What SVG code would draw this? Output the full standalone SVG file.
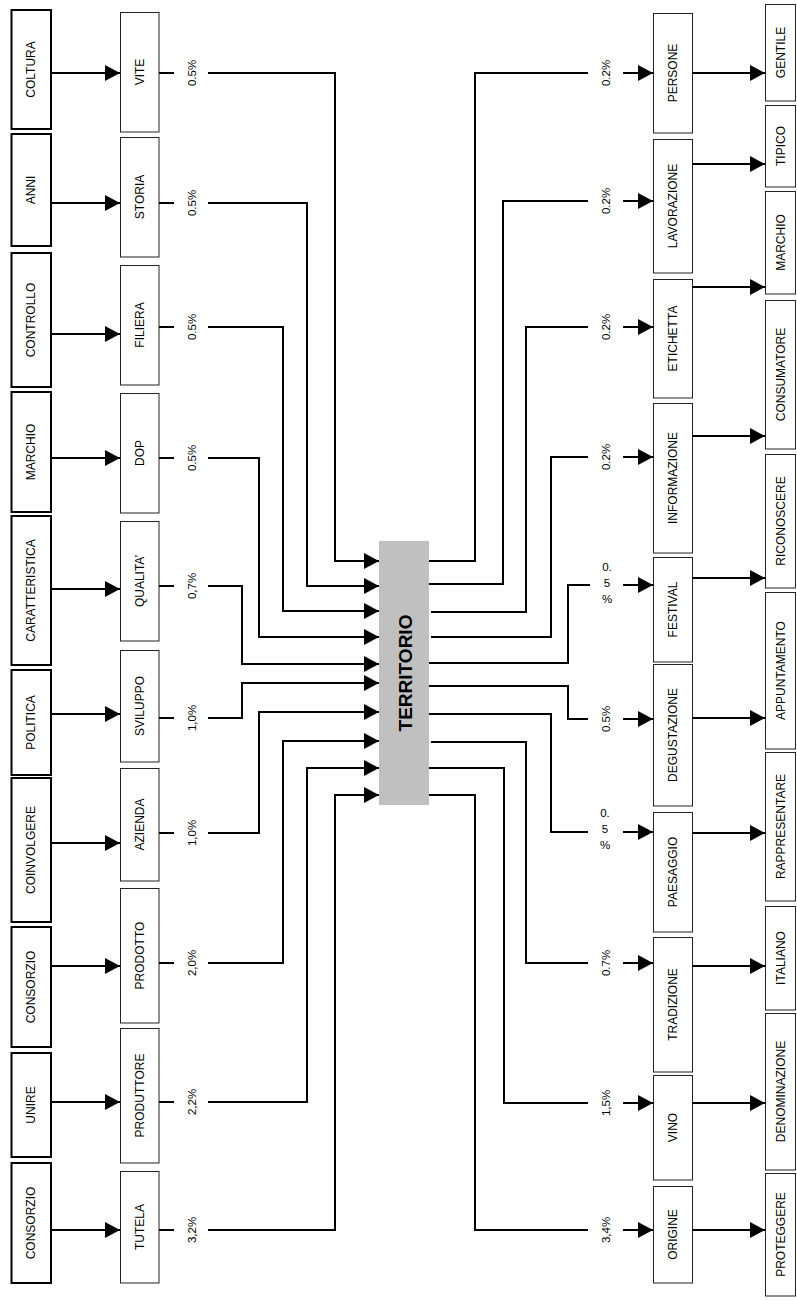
<svg xmlns="http://www.w3.org/2000/svg" width="797" height="1300" viewBox="0 0 797 1300">
<style>
.ob{fill:#fff;stroke:#000;stroke-width:2}
.ib{fill:#fff;stroke:#222;stroke-width:1}
.rb{fill:#fff;stroke:#222;stroke-width:1}
.t{font-family:"Liberation Sans",Arial,sans-serif;font-size:12px;fill:#000;text-anchor:middle;dominant-baseline:central}
.p{font-family:"Liberation Sans",Arial,sans-serif;font-size:11.5px;fill:#000;text-anchor:middle;dominant-baseline:central}
.c{fill:none;stroke:#000;stroke-width:2}
.a{fill:none;stroke:#000;stroke-width:2;marker-end:url(#ah)}
</style>
<defs>
<marker id="ah" markerUnits="userSpaceOnUse" markerWidth="16" markerHeight="16" refX="15" refY="8" orient="auto" viewBox="0 0 16 16">
<path d="M0,0 L15,8 L0,16 z" fill="#000"/>
</marker>
</defs>
<rect width="797" height="1300" fill="#fff"/>

<!-- Left outer nodes -->
<g id="lo1"><rect class="ob" x="11.5" y="10" width="39.5" height="119"/><text class="t" transform="translate(31,69.5) rotate(-90)">COLTURA</text></g>
<g id="lo2"><rect class="ob" x="11.5" y="134" width="39.5" height="112"/><text class="t" transform="translate(31,190) rotate(-90)">ANNI</text></g>
<g id="lo3"><rect class="ob" x="11.5" y="253" width="39.5" height="134"/><text class="t" transform="translate(31,320) rotate(-90)">CONTROLLO</text></g>
<g id="lo4"><rect class="ob" x="11.5" y="392" width="39.5" height="120"/><text class="t" transform="translate(31,452) rotate(-90)">MARCHIO</text></g>
<g id="lo5"><rect class="ob" x="11.5" y="516" width="39.5" height="149"/><text class="t" transform="translate(31,590.5) rotate(-90)">CARATTERISTICA</text></g>
<g id="lo6"><rect class="ob" x="11.5" y="670" width="39.5" height="105"/><text class="t" transform="translate(31,722.5) rotate(-90)">POLITICA</text></g>
<g id="lo7"><rect class="ob" x="11.5" y="778" width="39.5" height="144"/><text class="t" transform="translate(31,850) rotate(-90)">COINVOLGERE</text></g>
<g id="lo8"><rect class="ob" x="11.5" y="927" width="39.5" height="120"/><text class="t" transform="translate(31,987) rotate(-90)">CONSORZIO</text></g>
<g id="lo9"><rect class="ob" x="11.5" y="1053" width="39.5" height="104"/><text class="t" transform="translate(31,1105) rotate(-90)">UNIRE</text></g>
<g id="lo10"><rect class="ob" x="11.5" y="1163" width="39.5" height="120"/><text class="t" transform="translate(31,1223) rotate(-90)">CONSORZIO</text></g>

<!-- Left inner nodes -->
<g id="li1"><rect class="ib" x="120.5" y="12.5" width="38.5" height="119.5"/><text class="t" transform="translate(139.5,72) rotate(-90)">VITE</text></g>
<g id="li2"><rect class="ib" x="120.5" y="137.5" width="38.5" height="119.5"/><text class="t" transform="translate(139.5,197) rotate(-90)">STORIA</text></g>
<g id="li3"><rect class="ib" x="120.5" y="265.5" width="38.5" height="119.5"/><text class="t" transform="translate(139.5,325) rotate(-90)">FILIERA</text></g>
<g id="li4"><rect class="ib" x="120.5" y="393.5" width="38.5" height="119.5"/><text class="t" transform="translate(139.5,453) rotate(-90)">DOP</text></g>
<g id="li5"><rect class="ib" x="120.5" y="521.5" width="38.5" height="119.5"/><text class="t" transform="translate(139.5,581) rotate(-90)">QUALITA’</text></g>
<g id="li6"><rect class="ib" x="120.5" y="650.5" width="38.5" height="111.5"/><text class="t" transform="translate(139.5,706) rotate(-90)">SVILUPPO</text></g>
<g id="li7"><rect class="ib" x="120.5" y="768.5" width="38.5" height="112.5"/><text class="t" transform="translate(139.5,824.5) rotate(-90)">AZIENDA</text></g>
<g id="li8"><rect class="ib" x="120.5" y="888.5" width="38.5" height="134.5"/><text class="t" transform="translate(139.5,955.5) rotate(-90)">PRODOTTO</text></g>
<g id="li9"><rect class="ib" x="120.5" y="1028.5" width="38.5" height="134.5"/><text class="t" transform="translate(139.5,1095.5) rotate(-90)">PRODUTTORE</text></g>
<g id="li10"><rect class="ib" x="120.5" y="1171.5" width="38.5" height="111.5"/><text class="t" transform="translate(139.5,1227) rotate(-90)">TUTELA</text></g>

<!-- Center -->
<g id="territorio"><rect x="379" y="541" width="50" height="264" fill="#c0c0c0"/><text class="t" style="font-size:19px;font-weight:bold" transform="translate(405,673) rotate(-90)">TERRITORIO</text></g>

<!-- Right inner nodes -->
<g id="ri1"><rect class="ib" x="653.5" y="13.5" width="39" height="119.5"/><text class="t" transform="translate(673,73) rotate(-90)">PERSONE</text></g>
<g id="ri2"><rect class="ib" x="653.5" y="139.5" width="39" height="133.5"/><text class="t" transform="translate(673,206) rotate(-90)">LAVORAZIONE</text></g>
<g id="ri3"><rect class="ib" x="653.5" y="279.5" width="39" height="118.5"/><text class="t" transform="translate(673,338.5) rotate(-90)">ETICHETTA</text></g>
<g id="ri4"><rect class="ib" x="653.5" y="403.5" width="39" height="149.5"/><text class="t" transform="translate(673,478) rotate(-90)">INFORMAZIONE</text></g>
<g id="ri5"><rect class="ib" x="653.5" y="557.5" width="39" height="104.5"/><text class="t" transform="translate(673,609.5) rotate(-90)">FESTIVAL</text></g>
<g id="ri6"><rect class="ib" x="653.5" y="664.5" width="39" height="141.5"/><text class="t" transform="translate(673,735) rotate(-90)">DEGUSTAZIONE</text></g>
<g id="ri7"><rect class="ib" x="653.5" y="812.5" width="39" height="119.5"/><text class="t" transform="translate(673,872) rotate(-90)">PAESAGGIO</text></g>
<g id="ri8"><rect class="ib" x="653.5" y="937.5" width="39" height="134.5"/><text class="t" transform="translate(673,1004.5) rotate(-90)">TRADIZIONE</text></g>
<g id="ri9"><rect class="ib" x="653.5" y="1075.5" width="39" height="104.5"/><text class="t" transform="translate(673,1127.5) rotate(-90)">VINO</text></g>
<g id="ri10"><rect class="ib" x="653.5" y="1186.5" width="39" height="96.5"/><text class="t" transform="translate(673,1234.5) rotate(-90)">ORIGINE</text></g>

<!-- Right outer nodes -->
<g id="ro1"><rect class="rb" x="765.5" y="4.5" width="30" height="96.5"/><text class="t" transform="translate(781,52.5) rotate(-90)">GENTILE</text></g>
<g id="ro2"><rect class="rb" x="765.5" y="105.5" width="30" height="81.5"/><text class="t" transform="translate(781,146) rotate(-90)">TIPICO</text></g>
<g id="ro3"><rect class="rb" x="765.5" y="191.5" width="30" height="102.5"/><text class="t" transform="translate(781,242.5) rotate(-90)">MARCHIO</text></g>
<g id="ro4"><rect class="rb" x="765.5" y="300.5" width="30" height="148.5"/><text class="t" transform="translate(781,374.5) rotate(-90)">CONSUMATORE</text></g>
<g id="ro5"><rect class="rb" x="765.5" y="454.5" width="30" height="133.5"/><text class="t" transform="translate(781,521) rotate(-90)">RICONOSCERE</text></g>
<g id="ro6"><rect class="rb" x="765.5" y="592.5" width="30" height="156.5"/><text class="t" transform="translate(781,670.5) rotate(-90)">APPUNTAMENTO</text></g>
<g id="ro7"><rect class="rb" x="765.5" y="752.5" width="30" height="148.5"/><text class="t" transform="translate(781,826.5) rotate(-90)">RAPPRESENTARE</text></g>
<g id="ro8"><rect class="rb" x="765.5" y="906.5" width="30" height="103.5"/><text class="t" transform="translate(781,958) rotate(-90)">ITALIANO</text></g>
<g id="ro9"><rect class="rb" x="765.5" y="1013.5" width="30" height="156.5"/><text class="t" transform="translate(781,1091.5) rotate(-90)">DENOMINAZIONE</text></g>
<g id="ro10"><rect class="rb" x="765.5" y="1173.5" width="30" height="122.5"/><text class="t" transform="translate(781,1234.5) rotate(-90)">PROTEGGERE</text></g>

<!-- Connectors -->
<g id="connectors">
<!-- left outer -> inner -->
<path class="a" d="M51,73H120"/>
<path class="a" d="M51,203H120"/>
<path class="a" d="M51,334H120"/>
<path class="a" d="M51,458H120"/>
<path class="a" d="M51,589H120"/>
<path class="a" d="M51,714H120"/>
<path class="a" d="M51,843H120"/>
<path class="a" d="M51,966H120"/>
<path class="a" d="M51,1102H120"/>
<path class="a" d="M51,1230H120"/>
<!-- left inner -> territorio -->
<path class="c" d="M159,73H174"/><path class="a" d="M208,73H335V561H379"/>
<path class="c" d="M159,203H174"/><path class="a" d="M208,203H307V586H379"/>
<path class="c" d="M159,327H174"/><path class="a" d="M208,327H283V611H379"/>
<path class="c" d="M159,458H174"/><path class="a" d="M208,458H259V637H379"/>
<path class="c" d="M159,586H174"/><path class="a" d="M208,586H242V664H379"/>
<path class="c" d="M159,718H174"/><path class="a" d="M208,718H242V683H379"/>
<path class="c" d="M159,833H174"/><path class="a" d="M208,833H259V712H379"/>
<path class="c" d="M159,963H174"/><path class="a" d="M208,963H283V741H379"/>
<path class="c" d="M159,1102H174"/><path class="a" d="M208,1102H307V768H379"/>
<path class="c" d="M159,1230H174"/><path class="a" d="M208,1230H335V795H379"/>
<!-- territorio -> right inner -->
<path class="c" d="M429,561H475V73H588"/><path class="a" d="M623,73H653"/>
<path class="c" d="M429,584H503V201H588"/><path class="a" d="M623,201H653"/>
<path class="c" d="M431,612H526V327H588"/><path class="a" d="M623,327H653"/>
<path class="c" d="M431,637H551V457H588"/><path class="a" d="M623,457H653"/>
<path class="c" d="M429,663H568V585H590"/><path class="a" d="M623,585H653"/>
<path class="c" d="M429,686H568V719H588"/><path class="a" d="M623,719H653"/>
<path class="c" d="M429,714H551V832H588"/><path class="a" d="M623,832H653"/>
<path class="c" d="M431,742H526V963H588"/><path class="a" d="M623,963H653"/>
<path class="c" d="M429,768H504V1103H588"/><path class="a" d="M623,1103H653"/>
<path class="c" d="M429,795H475V1230H588"/><path class="a" d="M623,1230H653"/>
<!-- right inner -> right outer -->
<path class="a" d="M692,73H765"/>
<path class="a" d="M692,164H765"/>
<path class="a" d="M692,287H765"/>
<path class="a" d="M692,436H765"/>
<path class="a" d="M692,578H765"/>
<path class="a" d="M692,718H765"/>
<path class="a" d="M692,833H765"/>
<path class="a" d="M692,966H765"/>
<path class="a" d="M692,1103H765"/>
<path class="a" d="M692,1230H765"/>
<!-- labels left -->
<text class="p" transform="translate(192,73) rotate(-90)">0.5%</text>
<text class="p" transform="translate(192,203) rotate(-90)">0.5%</text>
<text class="p" transform="translate(192,327) rotate(-90)">0.5%</text>
<text class="p" transform="translate(192,458) rotate(-90)">0.5%</text>
<text class="p" transform="translate(192,586) rotate(-90)">0,7%</text>
<text class="p" transform="translate(192,718) rotate(-90)">1,0%</text>
<text class="p" transform="translate(192,833) rotate(-90)">1,0%</text>
<text class="p" transform="translate(192,963) rotate(-90)">2,0%</text>
<text class="p" transform="translate(192,1102) rotate(-90)">2,2%</text>
<text class="p" transform="translate(192,1230) rotate(-90)">3,2%</text>
<!-- labels right -->
<text class="p" transform="translate(606,73) rotate(-90)">0.2%</text>
<text class="p" transform="translate(606,201) rotate(-90)">0.2%</text>
<text class="p" transform="translate(606,327) rotate(-90)">0.2%</text>
<text class="p" transform="translate(606,457) rotate(-90)">0.2%</text>
<text class="p" x="607" y="567">0.</text><text class="p" x="607" y="583">5</text><text class="p" x="607" y="599">%</text>
<text class="p" transform="translate(606,719) rotate(-90)">0.5%</text>
<text class="p" x="605" y="813">0.</text><text class="p" x="605" y="829">5</text><text class="p" x="605" y="845">%</text>
<text class="p" transform="translate(606,963) rotate(-90)">0.7%</text>
<text class="p" transform="translate(606,1103) rotate(-90)">1,5%</text>
<text class="p" transform="translate(606,1230) rotate(-90)">3,4%</text>
</g>
</svg>
